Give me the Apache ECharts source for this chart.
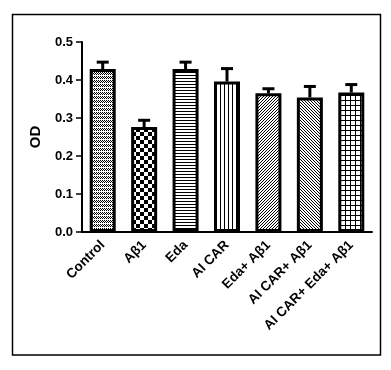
<!DOCTYPE html>
<html><head><meta charset="utf-8">
<script src="https://cdn.jsdelivr.net/npm/echarts@6/dist/echarts.min.js"></script>
<style>html,body{margin:0;padding:0;background:#fff}#c{width:391px;height:370px}</style>
</head><body><div id="c"></div>
<script>
var categories = ['Control', 'Aβ1', 'Eda', 'AI CAR', 'Eda+ Aβ1', 'AI CAR+ Aβ1', 'AI CAR+ Eda+ Aβ1'];
var values = [0.429, 0.276, 0.429, 0.396, 0.365, 0.354, 0.367];
var errors = [0.018, 0.018, 0.018, 0.034, 0.012, 0.029, 0.021];
var yTicks = [0.0, 0.1, 0.2, 0.3, 0.4, 0.5];
var patterns = ['finecheck', 'check', 'hlines', 'vlines', 'diag1', 'diag2', 'grid'];

function makePattern(type) {
  var c = document.createElement('canvas');
  var s = 8;
  c.width = s; c.height = s;
  var g = c.getContext('2d');
  g.fillStyle = '#fff'; g.fillRect(0, 0, s, s);
  g.fillStyle = '#000';
  if (type === 'finecheck') {
    c.width = 4; c.height = 4; g = c.getContext('2d');
    g.fillStyle = '#fff'; g.fillRect(0, 0, 4, 4); g.fillStyle = '#000';
    g.fillRect(0, 0, 1, 1); g.fillRect(2, 0, 1, 1); g.fillRect(1, 1, 1, 1); g.fillRect(3, 1, 1, 1);
    g.fillRect(0, 2, 1, 1); g.fillRect(2, 2, 1, 1); g.fillRect(1, 3, 1, 1); g.fillRect(3, 3, 1, 1);
    g.fillStyle = '#fff'; g.fillRect(0, 3, 4, 1);
  } else if (type === 'check') {
    g.fillRect(0, 0, 4, 4); g.fillRect(4, 4, 4, 4);
  } else if (type === 'hlines') {
    c.width = 4; c.height = 3; g = c.getContext('2d');
    g.fillStyle = '#fff'; g.fillRect(0, 0, 4, 3); g.fillStyle = '#000'; g.fillRect(0, 0, 4, 1);
  } else if (type === 'vlines') {
    c.width = 4; c.height = 4; g = c.getContext('2d');
    g.fillStyle = '#fff'; g.fillRect(0, 0, 4, 4); g.fillStyle = '#000'; g.fillRect(0, 0, 1, 4);
  } else if (type === 'diag1') {
    c.width = 3; c.height = 3; g = c.getContext('2d');
    g.fillStyle = '#fff'; g.fillRect(0, 0, 3, 3); g.fillStyle = '#000';
    g.fillRect(2, 0, 1, 1); g.fillRect(1, 1, 1, 1); g.fillRect(0, 2, 1, 1);
  } else if (type === 'diag2') {
    c.width = 3; c.height = 3; g = c.getContext('2d');
    g.fillStyle = '#fff'; g.fillRect(0, 0, 3, 3); g.fillStyle = '#000';
    g.fillRect(0, 0, 1, 1); g.fillRect(1, 1, 1, 1); g.fillRect(2, 2, 1, 1);
  } else if (type === 'grid') {
    c.width = 5; c.height = 5; g = c.getContext('2d');
    g.fillStyle = '#fff'; g.fillRect(0, 0, 5, 5); g.fillStyle = '#000';
    g.fillRect(0, 0, 5, 1); g.fillRect(0, 0, 1, 5);
  }
  return c;
}

var barData = values.map(function (v, i) {
  return { value: v, itemStyle: { color: { image: makePattern(patterns[i]), repeat: 'repeat' } } };
});
var errData = values.map(function (v, i) { return [i, v, v + errors[i]]; });

var chart = echarts.init(document.getElementById('c'), null, { renderer: 'canvas' });
chart.setOption({
  animation: false,
  backgroundColor: '#fff',
  grid: { left: 82, right: 19, top: 42, bottom: 138, containLabel: false },
  graphic: [{
    type: 'rect', shape: { x: 12.5, y: 14.5, width: 368, height: 340.5 },
    style: { fill: 'none', stroke: '#000', lineWidth: 1.5 }, silent: true, z: 0
  }],
  xAxis: {
    type: 'category', data: categories,
    axisLine: { lineStyle: { color: '#000', width: 2 } },
    axisTick: { alignWithLabel: true, length: 5, lineStyle: { color: '#000', width: 1.5 } },
    axisLabel: { rotate: 45, color: '#000', fontFamily: 'Liberation Sans, Arial, sans-serif', fontSize: 13.5, fontWeight: 'bold', margin: 11, interval: 0 }
  },
  yAxis: {
    type: 'value', min: 0, max: 0.5, interval: 0.1,
    name: 'OD', nameLocation: 'middle', nameGap: 39, nameRotate: 90,
    nameTextStyle: { color: '#000', fontFamily: 'Liberation Sans, Arial, sans-serif', fontSize: 15, fontWeight: 'bold' },
    splitLine: { show: false },
    axisLine: { show: true, lineStyle: { color: '#000', width: 2 } },
    axisTick: { show: true, length: 6, lineStyle: { color: '#000', width: 1.5 } },
    axisLabel: {
      color: '#000', fontFamily: 'Liberation Sans, Arial, sans-serif', fontSize: 13, fontWeight: 'bold', margin: 9,
      formatter: function (v) { return v.toFixed(1); }
    }
  },
  series: [{
    type: 'bar', data: barData, barWidth: 26,
    itemStyle: { borderColor: '#000', borderWidth: 3 }, z: 2
  }, {
    type: 'custom', data: errData, z: 3,
    renderItem: function (params, api) {
      var x = api.value(0);
      var p0 = api.coord([x, api.value(1)]);
      var p1 = api.coord([x, api.value(2)]);
      var hw = 6;
      return {
        type: 'group', children: [
          { type: 'line', shape: { x1: p0[0], y1: p0[1], x2: p1[0], y2: p1[1] }, style: { stroke: '#000', lineWidth: 3 } },
          { type: 'line', shape: { x1: p1[0] - hw, y1: p1[1], x2: p1[0] + hw, y2: p1[1] }, style: { stroke: '#000', lineWidth: 3 } }
        ]
      };
    }
  }]
});
</script></body></html>
